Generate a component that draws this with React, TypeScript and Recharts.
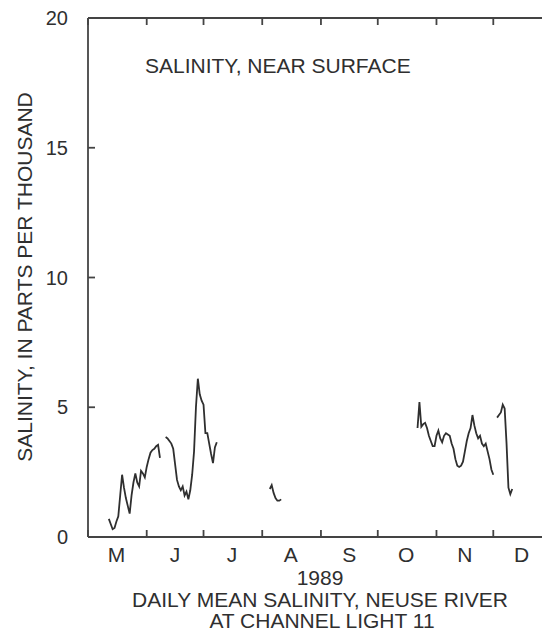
import { LineChart, Line, XAxis, YAxis } from 'recharts'

// ─── Constants ────────────────────────────────────────────────────────────────

const FONT = "'Liberation Sans', Arial, Helvetica, sans-serif"
const INK = '#2f2f2f'
const FRAME = '#444'
const TICK = 7

// ─── Data (x = day of year 1989, May 1 = 121, Jan 1 1990 = 366) ───────────────

const MONTH_STARTS = [121, 152, 182, 213, 244, 274, 305, 335, 366]
const MONTH_MIDS = [136, 167, 197, 228, 259, 289, 320, 350]
const MONTH_LABELS = ['M', 'J', 'J', 'A', 'S', 'O', 'N', 'D']
const Y_TICKS = [0, 5, 10, 15, 20]

// daily mean salinity, ppt — one array per unbroken record
const MAY_START = 132
const MAY_SAL = [
  0.7, 0.5, 0.3, 0.35, 0.6, 0.8, 1.6, 2.4, 1.9, 1.5, 1.2, 0.9, 1.6, 2.1,
  2.45, 2.1, 1.95, 2.55, 2.45, 2.3, 2.7, 3.0, 3.25, 3.35, 3.4, 3.5, 3.55, 3.05,
]

const JUN_START = 162
const JUN_SAL = [
  3.85, 3.8, 3.7, 3.6, 3.4, 2.8, 2.2, 1.95, 1.8, 1.95, 1.6, 1.75, 1.45, 1.8,
  2.4, 3.3, 5.0, 6.1, 5.5, 5.25, 5.1, 4.0, 4.0, 3.6, 3.2, 2.85, 3.45, 3.65,
]

const AUG_START = 217
const AUG_SAL = [1.85, 2.0, 1.7, 1.5, 1.4, 1.4, 1.45]

const OCT_START = 295
const OCT_SAL = [
  4.2, 5.2, 4.25, 4.35, 4.4, 4.2, 3.9, 3.7, 3.5, 3.5, 3.9, 4.1, 3.8, 3.65,
  3.9, 4.0, 3.95, 3.9, 3.6, 3.4, 3.0, 2.75, 2.7, 2.75, 2.9, 3.3, 3.7, 4.0,
  4.2, 4.7, 4.3, 4.0, 3.8, 3.9, 3.6, 3.5, 3.6, 3.3, 3.0, 2.6, 2.4,
]

const DEC_START = 337
const DEC_SAL = [4.6, 4.7, 4.8, 5.1, 4.95, 3.6, 1.9, 1.65, 1.85]

// ─── Helpers ──────────────────────────────────────────────────────────────────

function toRows(start: number, values: number[]) {
  return values.map((v, i) => ({ day: start + i, sal: v }))
}

const SEGMENTS = [
  toRows(MAY_START, MAY_SAL),
  toRows(JUN_START, JUN_SAL),
  toRows(AUG_START, AUG_SAL),
  toRows(OCT_START, OCT_SAL),
  toRows(DEC_START, DEC_SAL),
]

const BOTTOM_TICKS = [...MONTH_STARTS, ...MONTH_MIDS].sort((a, b) => a - b)

const textStyle = { fontFamily: FONT, fontSize: 21, color: INK, lineHeight: '21px', whiteSpace: 'nowrap' as const }

// ─── Tick renderers (marks point into the plot, labels sit outside) ───────────

function BottomTick({ x, y, payload }: any) {
  const i = MONTH_MIDS.indexOf(payload.value)
  if (i >= 0) {
    return (
      <text x={x} y={y + 25} textAnchor="middle" fontFamily={FONT} fontSize={21} fill={INK}>
        {MONTH_LABELS[i]}
      </text>
    )
  }
  return <line x1={x} x2={x} y1={y} y2={y - TICK} stroke={FRAME} strokeWidth={1.8} />
}

function LeftTick({ x, y, payload }: any) {
  return (
    <g>
      <line x1={x} x2={x + TICK} y1={y} y2={y} stroke={FRAME} strokeWidth={1.8} />
      <text x={x - 20} y={y} dy="0.36em" textAnchor="end" fontFamily={FONT} fontSize={20} fill={INK}>
        {payload.value}
      </text>
    </g>
  )
}

function TopTick({ x, y }: any) {
  return <line x1={x} x2={x} y1={y} y2={y + TICK} stroke={FRAME} strokeWidth={1.8} />
}

function RightTick({ x, y }: any) {
  return <line x1={x} x2={x - TICK} y1={y} y2={y} stroke={FRAME} strokeWidth={1.8} />
}

// ─── Component ────────────────────────────────────────────────────────────────

export default function App() {
  return (
    <div style={{ position: 'fixed', left: 0, top: 0, width: 542, height: 637, overflow: 'hidden', background: '#fff' }}>
      <LineChart width={570} height={637} margin={{ top: 18, right: 18, bottom: 70, left: 0 }}>
        <XAxis
          xAxisId="main" type="number" dataKey="day" domain={[121, 366]} height={30}
          ticks={BOTTOM_TICKS} interval={0} allowDataOverflow
          tickLine={false} tickSize={0} tickMargin={0} tick={<BottomTick />}
          stroke={FRAME} strokeWidth={1.8}
        />
        <YAxis
          yAxisId="main" type="number" domain={[0, 20]} ticks={Y_TICKS} interval={0} allowDataOverflow width={88}
          tickLine={false} tickSize={0} tickMargin={0} tick={<LeftTick />}
          stroke={FRAME} strokeWidth={1.8}
        />
        <XAxis
          xAxisId="top" orientation="top" type="number" dataKey="day" domain={[121, 366]}
          ticks={MONTH_STARTS} interval={0} allowDataOverflow mirror
          tickLine={false} tickSize={0} tickMargin={0} tick={<TopTick />}
          stroke={FRAME} strokeWidth={1.8}
        />
        <YAxis
          yAxisId="right" orientation="right" type="number" domain={[0, 20]} ticks={Y_TICKS} interval={0}
          allowDataOverflow mirror
          tickLine={false} tickSize={0} tickMargin={0} tick={<RightTick />}
          stroke={FRAME} strokeWidth={1.8}
        />

        {SEGMENTS.map((seg, i) => (
          <Line
            key={i}
            xAxisId="main"
            yAxisId="main"
            data={seg}
            dataKey="sal"
            type="linear"
            stroke={INK}
            strokeWidth={1.8}
            dot={false}
            activeDot={false}
            isAnimationActive={false}
          />
        ))}

        {/* invisible copy so the top/right frame axes get a domain */}
        <Line xAxisId="top" yAxisId="right" data={SEGMENTS[0]} dataKey="sal" stroke="none" dot={false} activeDot={false} isAnimationActive={false} />
      </LineChart>

      {/* in-plot title */}
      <div style={{ ...textStyle, position: 'absolute', left: 145, top: 55 }}>SALINITY, NEAR SURFACE</div>

      {/* y-axis title */}
      <div style={{ ...textStyle, position: 'absolute', left: 24, top: 277, transform: 'translate(-50%, -50%) rotate(-90deg)' }}>
        SALINITY, IN PARTS PER THOUSAND
      </div>

      {/* captions */}
      <div style={{ ...textStyle, position: 'absolute', left: 320, top: 567, transform: 'translateX(-50%)' }}>1989</div>
      <div style={{ ...textStyle, position: 'absolute', left: 320, top: 589, transform: 'translateX(-50%)' }}>
        DAILY MEAN SALINITY, NEUSE RIVER
      </div>
      <div style={{ ...textStyle, position: 'absolute', left: 322, top: 610, transform: 'translateX(-50%)' }}>
        AT CHANNEL LIGHT 11
      </div>
    </div>
  )
}
